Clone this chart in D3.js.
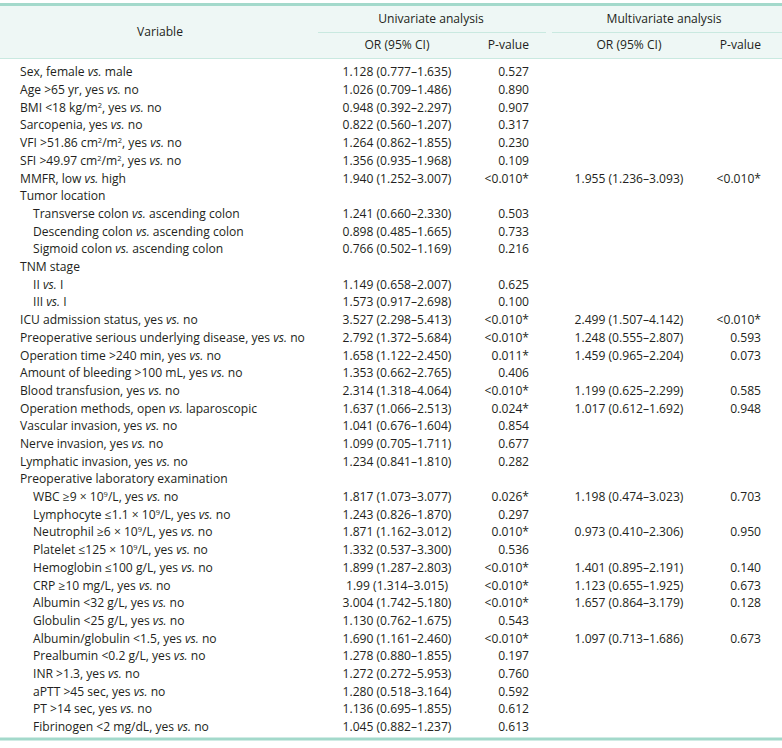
<!DOCTYPE html>
<html>
<head>
<meta charset="UTF-8">
<script src="https://cdn.jsdelivr.net/npm/d3@7"></script>
<style>
  body { margin: 0; background: #fff; }
  svg text { font-family: "Open Sans", sans-serif; font-size: 12.1px; fill: #231f20; }
</style>
</head>
<body>
<svg width="782" height="748"></svg>
<script>
// rows of the table; _vs._ = italic, ^x^ = superscript
var variables = [
  "Sex, female _vs._ male",
  "Age >65 yr, yes _vs._ no",
  "BMI <18 kg/m^2^, yes _vs._ no",
  "Sarcopenia, yes _vs._ no",
  "VFI >51.86 cm^2^/m^2^, yes _vs._ no",
  "SFI >49.97 cm^2^/m^2^, yes _vs._ no",
  "MMFR, low _vs._ high",
  "Tumor location",
  "Transverse colon _vs._ ascending colon",
  "Descending colon _vs._ ascending colon",
  "Sigmoid colon _vs._ ascending colon",
  "TNM stage",
  "II _vs._ I",
  "III _vs._ I",
  "ICU admission status, yes _vs._ no",
  "Preoperative serious underlying disease, yes _vs._ no",
  "Operation time >240 min, yes _vs._ no",
  "Amount of bleeding >100 mL, yes _vs._ no",
  "Blood transfusion, yes _vs._ no",
  "Operation methods, open _vs._ laparoscopic",
  "Vascular invasion, yes _vs._ no",
  "Nerve invasion, yes _vs._ no",
  "Lymphatic invasion, yes _vs._ no",
  "Preoperative laboratory examination",
  "WBC \u22659 \u00d7 10^9^/L, yes _vs._ no",
  "Lymphocyte \u22641.1 \u00d7 10^9^/L, yes _vs._ no",
  "Neutrophil \u22656 \u00d7 10^9^/L, yes _vs._ no",
  "Platelet \u2264125 \u00d7 10^9^/L, yes _vs._ no",
  "Hemoglobin \u2264100 g/L, yes _vs._ no",
  "CRP \u226510 mg/L, yes _vs._ no",
  "Albumin <32 g/L, yes _vs._ no",
  "Globulin <25 g/L, yes _vs._ no",
  "Albumin/globulin <1.5, yes _vs._ no",
  "Prealbumin <0.2 g/L, yes _vs._ no",
  "INR >1.3, yes _vs._ no",
  "aPTT >45 sec, yes _vs._ no",
  "PT >14 sec, yes _vs._ no",
  "Fibrinogen <2 mg/dL, yes _vs._ no"
];
var indented = [8, 9, 10, 12, 13, 24, 25, 26, 27, 28, 29, 30, 31, 32, 33, 34, 35, 36, 37];

var univOR = [
  "1.128 (0.777\u20131.635)", "1.026 (0.709\u20131.486)", "0.948 (0.392\u20132.297)",
  "0.822 (0.560\u20131.207)", "1.264 (0.862\u20131.855)", "1.356 (0.935\u20131.968)",
  "1.940 (1.252\u20133.007)", "",
  "1.241 (0.660\u20132.330)", "0.898 (0.485\u20131.665)", "0.766 (0.502\u20131.169)", "",
  "1.149 (0.658\u20132.007)", "1.573 (0.917\u20132.698)",
  "3.527 (2.298\u20135.413)", "2.792 (1.372\u20135.684)", "1.658 (1.122\u20132.450)",
  "1.353 (0.662\u20132.765)", "2.314 (1.318\u20134.064)", "1.637 (1.066\u20132.513)",
  "1.041 (0.676\u20131.604)", "1.099 (0.705\u20131.711)", "1.234 (0.841\u20131.810)", "",
  "1.817 (1.073\u20133.077)", "1.243 (0.826\u20131.870)", "1.871 (1.162\u20133.012)",
  "1.332 (0.537\u20133.300)", "1.899 (1.287\u20132.803)", "1.99 (1.314\u20133.015)",
  "3.004 (1.742\u20135.180)", "1.130 (0.762\u20131.675)", "1.690 (1.161\u20132.460)",
  "1.278 (0.880\u20131.855)", "1.272 (0.272\u20135.953)", "1.280 (0.518\u20133.164)",
  "1.136 (0.695\u20131.855)", "1.045 (0.882\u20131.237)"
];
var univP = [
  "0.527", "0.890", "0.907", "0.317", "0.230", "0.109", "<0.010*", "",
  "0.503", "0.733", "0.216", "", "0.625", "0.100",
  "<0.010*", "<0.010*", "0.011*", "0.406", "<0.010*", "0.024*",
  "0.854", "0.677", "0.282", "",
  "0.026*", "0.297", "0.010*", "0.536", "<0.010*", "<0.010*", "<0.010*",
  "0.543", "<0.010*", "0.197", "0.760", "0.592", "0.612", "0.613"
];
var multiOR = [
  "", "", "", "", "", "", "1.955 (1.236\u20133.093)", "",
  "", "", "", "", "", "",
  "2.499 (1.507\u20134.142)", "1.248 (0.555\u20132.807)", "1.459 (0.965\u20132.204)",
  "", "1.199 (0.625\u20132.299)", "1.017 (0.612\u20131.692)",
  "", "", "", "",
  "1.198 (0.474\u20133.023)", "", "0.973 (0.410\u20132.306)", "",
  "1.401 (0.895\u20132.191)", "1.123 (0.655\u20131.925)", "1.657 (0.864\u20133.179)",
  "", "1.097 (0.713\u20131.686)", "", "", "", "", ""
];
var multiP = [
  "", "", "", "", "", "", "<0.010*", "",
  "", "", "", "", "", "",
  "<0.010*", "0.593", "0.073", "", "0.585", "0.948",
  "", "", "", "",
  "0.703", "", "0.950", "", "0.140", "0.673", "0.128",
  "", "0.673", "", "", "", "", ""
];

var teal = "#a3d9cb", tealLight = "#c9e9e0", headBg = "#eef7f5";

var svg = d3.select("svg");

// row positions
var y = d3.scaleBand()
  .domain(d3.range(variables.length))
  .range([63.5, 736])
  .padding(0);

// header band
svg.append("rect").attr("x", 0).attr("y", 5).attr("width", 782).attr("height", 53)
  .attr("fill", headBg);
svg.append("line").attr("x1", 0).attr("x2", 782).attr("y1", 4.5).attr("y2", 4.5)
  .attr("stroke", teal).attr("stroke-width", 3);
svg.append("line").attr("x1", 0).attr("x2", 782).attr("y1", 58.5).attr("y2", 58.5)
  .attr("stroke", tealLight).attr("stroke-width", 1);
svg.append("line").attr("x1", 318).attr("x2", 546).attr("y1", 32.5).attr("y2", 32.5)
  .attr("stroke", tealLight).attr("stroke-width", 1);
svg.append("line").attr("x1", 552).attr("x2", 782).attr("y1", 32.5).attr("y2", 32.5)
  .attr("stroke", tealLight).attr("stroke-width", 1);
svg.append("line").attr("x1", 0).attr("x2", 782).attr("y1", 739).attr("y2", 739)
  .attr("stroke", teal).attr("stroke-width", 3);

var head = [
  { t: "Variable", x: 160, y: 36, a: "middle" },
  { t: "Univariate analysis", x: 431, y: 23, a: "middle" },
  { t: "Multivariate analysis", x: 664, y: 23, a: "middle" },
  { t: "OR (95% CI)", x: 397, y: 49, a: "middle" },
  { t: "P-value", x: 529, y: 49, a: "end" },
  { t: "OR (95% CI)", x: 629, y: 49, a: "middle" },
  { t: "P-value", x: 761, y: 49, a: "end" }
];
svg.selectAll("text.head").data(head).enter().append("text")
  .attr("class", "head")
  .attr("x", function(d) { return d.x; })
  .attr("y", function(d) { return d.y; })
  .attr("text-anchor", function(d) { return d.a; })
  .text(function(d) { return d.t; });

// split a label into plain / italic / superscript pieces
function pieces(s) {
  var out = [], re = /(_[^_]+_|\^[^^]+\^)/g, last = 0, m;
  while ((m = re.exec(s)) !== null) {
    if (m.index > last) out.push({ t: s.slice(last, m.index), k: "n" });
    var inner = m[0].slice(1, -1);
    out.push({ t: inner, k: m[0][0] === "_" ? "i" : "s" });
    last = m.index + m[0].length;
  }
  if (last < s.length) out.push({ t: s.slice(last), k: "n" });
  return out;
}

var rows = svg.selectAll("g.row").data(variables).enter().append("g")
  .attr("class", "row")
  .attr("transform", function(d, i) { return "translate(0," + (y(i) + y.bandwidth() / 2 + 4) + ")"; });

rows.append("text")
  .attr("x", function(d, i) { return indented.indexOf(i) >= 0 ? 33 : 20; })
  .each(function(d) {
    var t = d3.select(this), prevSup = false;
    pieces(d).forEach(function(p) {
      var ts = t.append("tspan").text(p.t);
      if (p.k === "i") ts.style("font-style", "italic");
      if (p.k === "s") {
        ts.attr("dy", -4).style("font-size", "7.5px");
        prevSup = true;
      } else if (prevSup) {
        ts.attr("dy", 4);
        prevSup = false;
      }
    });
  });

rows.append("text").attr("x", 397).attr("text-anchor", "middle")
  .text(function(d, i) { return univOR[i]; });
rows.append("text").attr("x", 529).attr("text-anchor", "end")
  .text(function(d, i) { return univP[i]; });
rows.append("text").attr("x", 629).attr("text-anchor", "middle")
  .text(function(d, i) { return multiOR[i]; });
rows.append("text").attr("x", 761).attr("text-anchor", "end")
  .text(function(d, i) { return multiP[i]; });
</script>
</body>
</html>
